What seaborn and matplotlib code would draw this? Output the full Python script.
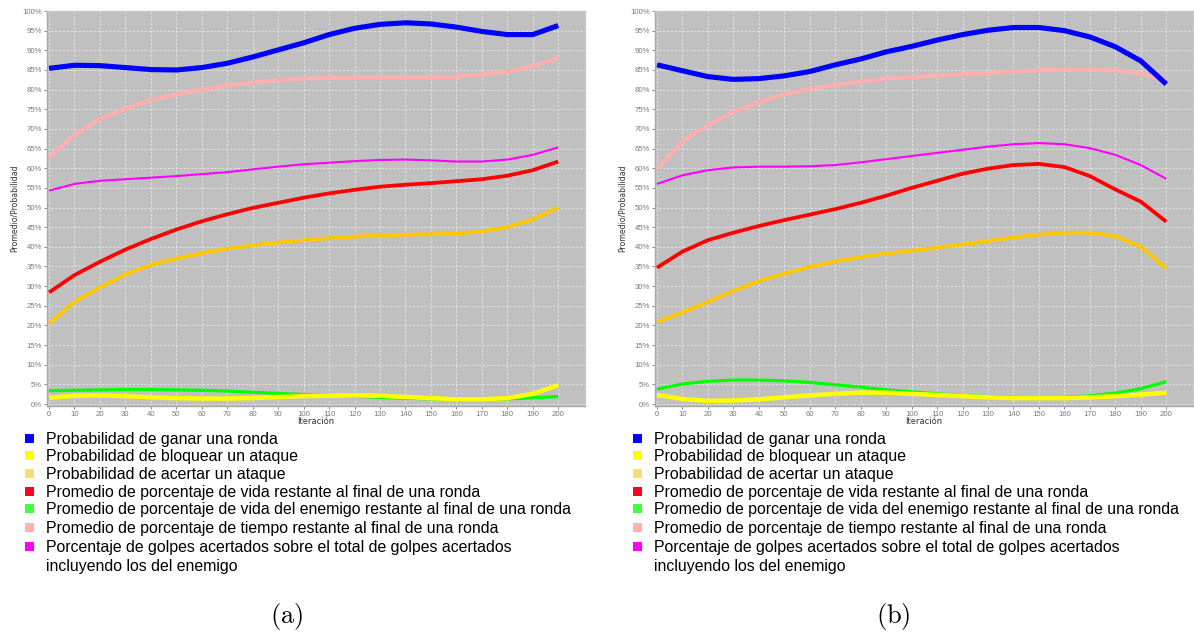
import matplotlib
matplotlib.use("Agg")
import matplotlib.pyplot as plt
from matplotlib.patches import Rectangle
from matplotlib.ticker import FixedLocator, FuncFormatter
import seaborn as sns
import pandas as pd

# ---- data -------------------------------------------------------------
iteraciones = [0, 10, 20, 30, 40, 50, 60, 70, 80, 90, 100,
               110, 120, 130, 140, 150, 160, 170, 180, 190, 200]

series_names = [
    "Probabilidad de ganar una ronda",
    "Probabilidad de bloquear un ataque",
    "Probabilidad de acertar un ataque",
    "Promedio de porcentaje de vida restante al final de una ronda",
    "Promedio de porcentaje de vida del enemigo restante al final de una ronda",
    "Promedio de porcentaje de tiempo restante al final de una ronda",
    "Porcentaje de golpes acertados sobre el total de golpes acertados\nincluyendo los del enemigo",
]

# chart (a)
a_ganar = [85.4, 86.2, 86.1, 85.6, 85.1, 85.0, 85.6, 86.7, 88.3, 90.1, 91.9,
           94.0, 95.6, 96.6, 97.0, 96.7, 95.9, 94.8, 94.0, 94.0, 96.3]
a_bloquear = [1.6, 2.1, 2.2, 2.0, 1.7, 1.5, 1.4, 1.4, 1.5, 1.8, 2.0,
              2.1, 2.2, 2.1, 1.8, 1.5, 1.2, 1.2, 1.5, 2.6, 4.8]
a_acertar = [20.5, 26.0, 29.7, 33.0, 35.4, 37.0, 38.4, 39.5, 40.4, 41.1, 41.7,
             42.2, 42.6, 42.9, 43.1, 43.2, 43.4, 43.9, 45.0, 47.0, 50.0]
a_vida = [28.4, 32.8, 36.2, 39.3, 42.0, 44.4, 46.5, 48.3, 49.9, 51.2, 52.5,
          53.6, 54.5, 55.3, 55.8, 56.2, 56.7, 57.2, 58.1, 59.5, 61.7]
a_vida_enemigo = [3.4, 3.5, 3.6, 3.7, 3.7, 3.6, 3.5, 3.3, 3.0, 2.7, 2.4,
                  2.2, 2.0, 1.7, 1.5, 1.3, 1.1, 1.1, 1.3, 1.6, 1.9]
a_tiempo = [62.8, 68.5, 72.5, 75.2, 77.3, 78.8, 80.0, 81.0, 81.8, 82.4, 82.8,
            83.0, 83.1, 83.1, 83.1, 83.1, 83.3, 83.8, 84.5, 86.0, 88.0]
a_golpes = [54.3, 56.0, 56.8, 57.2, 57.6, 58.0, 58.5, 59.0, 59.7, 60.4, 61.0,
            61.4, 61.8, 62.1, 62.2, 62.0, 61.7, 61.7, 62.2, 63.4, 65.3]

# chart (b)
b_ganar = [86.3, 84.8, 83.3, 82.6, 82.8, 83.5, 84.6, 86.3, 87.8, 89.6, 91.0,
           92.6, 94.0, 95.1, 95.8, 95.8, 95.0, 93.4, 90.9, 87.3, 81.4]
b_bloquear = [2.3, 1.3, 0.8, 0.9, 1.2, 1.7, 2.2, 2.6, 2.9, 2.9, 2.6,
              2.3, 2.0, 1.7, 1.5, 1.5, 1.5, 1.7, 2.0, 2.4, 2.9]
b_acertar = [20.9, 23.3, 26.0, 28.8, 31.3, 33.2, 34.9, 36.3, 37.4, 38.3, 39.0,
             39.8, 40.6, 41.5, 42.4, 43.1, 43.6, 43.6, 42.7, 40.0, 34.5]
b_vida = [34.7, 38.8, 41.7, 43.6, 45.3, 46.8, 48.2, 49.6, 51.2, 53.0, 55.0,
          56.8, 58.6, 59.9, 60.8, 61.1, 60.3, 58.0, 54.6, 51.5, 46.4]
b_vida_enemigo = [3.8, 5.1, 5.8, 6.1, 6.1, 5.9, 5.5, 4.9, 4.3, 3.6, 3.1,
                  2.6, 2.2, 1.9, 1.7, 1.6, 1.7, 2.1, 2.8, 3.9, 5.7]
b_tiempo = [59.8, 66.8, 71.0, 74.3, 76.8, 78.8, 80.2, 81.2, 82.1, 82.8, 83.2,
            83.6, 83.9, 84.2, 84.6, 84.9, 85.1, 85.1, 84.9, 84.1, 82.2]
b_golpes = [56.0, 58.2, 59.5, 60.2, 60.4, 60.4, 60.5, 60.8, 61.5, 62.3, 63.1,
            63.9, 64.7, 65.5, 66.1, 66.4, 66.1, 65.1, 63.4, 60.8, 57.3]

x_ticks = [0, 10, 20, 30, 40, 50, 60, 70, 80, 90, 100,
           110, 120, 130, 140, 150, 160, 170, 180, 190, 200]
y_ticks = [0, 5, 10, 15, 20, 25, 30, 35, 40, 45, 50,
           55, 60, 65, 70, 75, 80, 85, 90, 95, 100]
captions = ["(a)", "(b)"]

# ---- styles -----------------------------------------------------------
line_colors = ["#0000FF", "#FFFF00", "#FFC800", "#FF0000",
               "#00FF00", "#FFAFAF", "#FF00FF"]
line_widths = [3.7, 3.2, 2.7, 2.7, 2.3, 2.9, 1.5]
legend_colors = ["#0000FF", "#FFFF00", "#FFDB70", "#FF0022",
                 "#40FF40", "#FFB0B0", "#FF00FF"]

W, H = 1194, 634
plt.rcParams["mathtext.fontset"] = "cm"
fig = plt.figure(figsize=(W / 100, H / 100), dpi=100)


def fx(px):
    return px / W


def fy(py):
    return 1 - py / H


def draw_panel(left_px, series, caption, cap_x):
    ax = fig.add_axes([fx(left_px), fy(406), 538 / W, 395 / H])
    ax.set_facecolor("#C0C0C0")
    # later series first, so the first series ends up on top
    for idx in reversed(range(len(series))):
        df = pd.DataFrame({"Iteración": iteraciones, "valor": series[idx]})
        sns.lineplot(data=df, x="Iteración", y="valor", ax=ax,
                     color=line_colors[idx], linewidth=line_widths[idx],
                     zorder=3 + (len(series) - idx), legend=False,
                     solid_joinstyle="round", solid_capstyle="butt")
    ax.set_xlim(-0.8, 210.5)
    ax.set_ylim(-0.5, 100)
    ax.xaxis.set_major_locator(FixedLocator(x_ticks))
    ax.yaxis.set_major_locator(FixedLocator(y_ticks))
    ax.yaxis.set_major_formatter(FuncFormatter(lambda v, p: f"{v:.0f}%"))
    ax.grid(True, color="#E6E6E6", linestyle=(0, (2, 2)), linewidth=0.7)
    ax.set_axisbelow(True)
    ax.tick_params(axis="both", labelsize=5.6, colors="#7A7A7A",
                   length=2, width=0.6, pad=1.5)
    for lab in ax.get_xticklabels() + ax.get_yticklabels():
        lab.set_family("Liberation Sans")
    for side, sp in ax.spines.items():
        sp.set_color("#A8A8A8" if side in ("left", "bottom") else "#C8C8C8")
        sp.set_linewidth(1.0)
    ax.set_xlabel("Iteración", fontsize=6, color="#333333",
                  family="DejaVu Sans")
    ax.set_ylabel("Promedio/Probabilidad", fontsize=5.6, color="#333333",
                  family="DejaVu Sans")
    ax.xaxis.set_label_coords(0.5, -0.027)
    ax.yaxis.set_label_coords(-0.052, 0.5)

    # legend block below the chart
    centers = [438.5, 455.5, 473, 491, 508.5, 527, 546.5]
    off = left_px - 47
    for i, name in enumerate(series_names):
        cy = centers[i]
        fig.add_artist(Rectangle((fx(25 + off), fy(cy + 4.5)), 9 / W, 9 / H,
                                 transform=fig.transFigure,
                                 facecolor=legend_colors[i], edgecolor="none"))
        lines = name.split("\n")
        for j, ln in enumerate(lines):
            fig.text(fx(46 + off), fy(cy + 5.5 + j * 19.5), ln,
                     fontsize=11.4, family="Liberation Sans", color="black",
                     ha="left", va="baseline")
    fig.text(fx(cap_x), fy(616), r"$\mathrm{" + caption + "}$",
             fontsize=19, ha="center", va="center")


draw_panel(47, [a_ganar, a_bloquear, a_acertar, a_vida, a_vida_enemigo,
                a_tiempo, a_golpes], captions[0], 287)
draw_panel(655, [b_ganar, b_bloquear, b_acertar, b_vida, b_vida_enemigo,
                 b_tiempo, b_golpes], captions[1], 893)

fig.savefig("out.png", dpi=100, facecolor="white")
